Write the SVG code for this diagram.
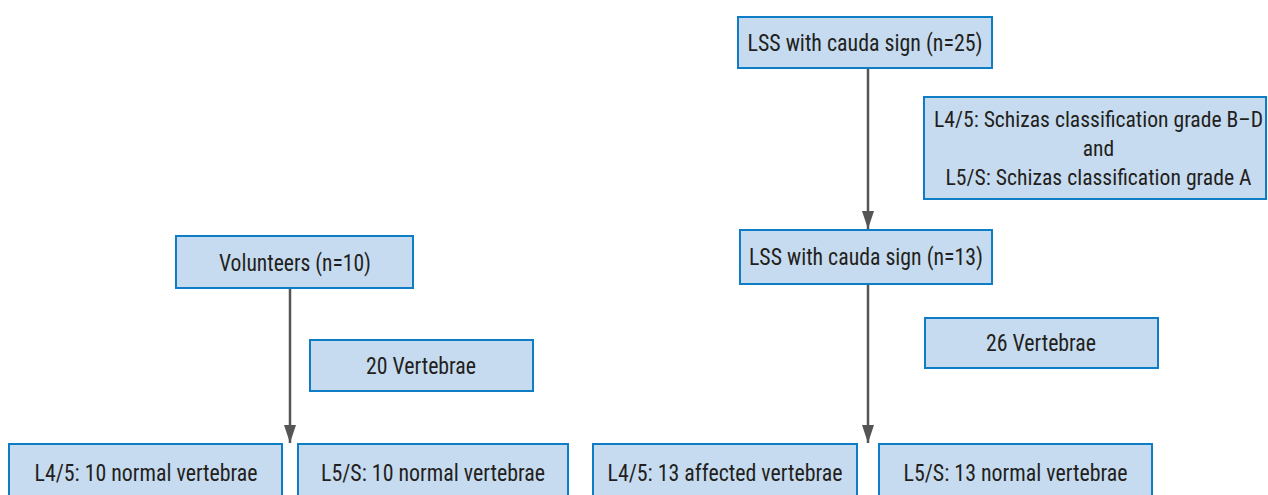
<svg xmlns="http://www.w3.org/2000/svg" width="1268" height="495" viewBox="0 0 1268 495">
<style>
.box{fill:#c6dbef;stroke:#0f7dc5;stroke-width:2}
.t{font-family:"Liberation Sans Narrow","Roboto Condensed","Liberation Sans",Arial,sans-serif;font-size:23px;fill:#231f20;text-anchor:middle}
.s{font-size:21.5px}
.c{stroke:#555555;stroke-width:2.5;fill:none}
</style>
<defs>
<marker id="ah" viewBox="0 0 18 12" refX="18" refY="6" markerWidth="18" markerHeight="12" markerUnits="userSpaceOnUse" orient="auto">
<path d="M0,0 L18,6 L0,12 z" fill="#555555"/>
</marker>
</defs>
<rect width="1268" height="495" fill="#ffffff"/>
<g id="connectors">
<line class="c" x1="868" y1="69" x2="868" y2="229" marker-end="url(#ah)"/>
<line class="c" x1="868" y1="285" x2="868" y2="443" marker-end="url(#ah)"/>
<line class="c" x1="290" y1="289" x2="290" y2="443" marker-end="url(#ah)"/>
</g>
<g id="lss25">
<rect class="box" x="738" y="17" width="254" height="51"/>
<text class="t" x="865" y="51" textLength="235" lengthAdjust="spacingAndGlyphs">LSS with cauda sign (n=25)</text>
</g>
<g id="schizas">
<rect class="box" x="924" y="97" width="342" height="102"/>
<text class="t s" x="1098.5" y="127" textLength="329" lengthAdjust="spacingAndGlyphs">L4/5: Schizas classification grade B–D</text>
<text class="t s" x="1098.5" y="156">and</text>
<text class="t s" x="1098.5" y="185" textLength="306" lengthAdjust="spacingAndGlyphs">L5/S: Schizas classification grade A</text>
</g>
<g id="volunteers">
<rect class="box" x="176" y="236" width="237" height="52"/>
<text class="t" x="295" y="271" textLength="152" lengthAdjust="spacingAndGlyphs">Volunteers (n=10)</text>
</g>
<g id="v20">
<rect class="box" x="310" y="340" width="223" height="51"/>
<text class="t" x="421" y="374" textLength="110" lengthAdjust="spacingAndGlyphs">20 Vertebrae</text>
</g>
<g id="lss13">
<rect class="box" x="740" y="230" width="252" height="54"/>
<text class="t" x="866" y="265" textLength="234" lengthAdjust="spacingAndGlyphs">LSS with cauda sign (n=13)</text>
</g>
<g id="v26">
<rect class="box" x="925" y="318" width="233" height="50"/>
<text class="t" x="1041" y="351" textLength="110" lengthAdjust="spacingAndGlyphs">26 Vertebrae</text>
</g>
<g id="vol-l45">
<rect class="box" x="9" y="444" width="273" height="60"/>
<text class="t" x="146" y="481" textLength="223" lengthAdjust="spacingAndGlyphs">L4/5: 10 normal vertebrae</text>
</g>
<g id="vol-l5s">
<rect class="box" x="298" y="444" width="270" height="60"/>
<text class="t" x="433" y="481" textLength="224" lengthAdjust="spacingAndGlyphs">L5/S: 10 normal vertebrae</text>
</g>
<g id="lss-l45">
<rect class="box" x="593" y="444" width="264" height="60"/>
<text class="t" x="725" y="481" textLength="235" lengthAdjust="spacingAndGlyphs">L4/5: 13 affected vertebrae</text>
</g>
<g id="lss-l5s">
<rect class="box" x="879" y="444" width="273" height="60"/>
<text class="t" x="1015.5" y="481" textLength="224" lengthAdjust="spacingAndGlyphs">L5/S: 13 normal vertebrae</text>
</g>
</svg>
